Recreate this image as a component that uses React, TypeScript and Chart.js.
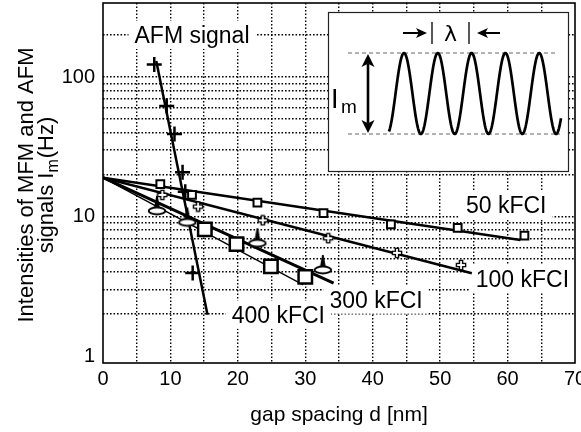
import React, { useEffect, useRef } from 'react';
import { Chart, registerables } from 'chart.js';

Chart.register(...registerables);

// ---------- data ----------
const afmD = [7.6, 9.45, 10.6, 11.8, 12.2, 13.3];
const afmI = [123, 62, 39, 20.8, 15.1, 3.94];

const d50 = [8.5, 13.2, 22.9, 32.7, 42.7, 52.6, 62.5];
const i50 = [17.1, 14.3, 12.6, 10.6, 8.8, 8.3, 7.3];

const d100 = [8.8, 14.1, 23.7, 33.4, 43.6, 53.1];
const i100 = [14.3, 11.8, 9.4, 7.0, 5.5, 4.5];

const d300 = [8.0, 12.5, 22.9, 32.6];
const i300 = [11.0, 9.1, 6.45, 4.15];

const d400 = [15.1, 19.8, 24.9, 30.0];
const i400 = [8.1, 6.35, 4.4, 3.7];

// fitted lines (start, end)
const fitAfmD = [7.9, 15.5];
const fitAfmI = [130, 1.98];
const fit50D = [0, 61.9];
const fit50I = [19, 6.8];
const fit100D = [0, 54.7];
const fit100I = [19, 3.93];
const fit300D = [0, 34.2];
const fit300I = [19, 3.34];
const fit400D = [0, 29.7];
const fit400I = [19, 3.24];

// axes
const xTicks = [0, 5, 10, 15, 20, 25, 30, 35, 40, 45, 50, 55, 60, 65, 70];
const xLabelled = [0, 10, 20, 30, 40, 50, 60, 70];
const yTicks = [1, 2, 3, 4, 5, 6, 7, 8, 9, 10, 20, 30, 40, 50, 60, 70, 80, 90, 100, 200];
const yLabelled = [1, 10, 100];

// curve labels
const curveLabels = ['AFM signal', '50 kFCI', '100 kFCI', '300 kFCI', '400 kFCI'];
const curveLabelD = [13.2, 59.8, 62.2, 40.5, 26.0];
const curveLabelI = [200, 12.1, 3.58, 2.54, 1.98];

const FONT = '"Liberation Sans", Arial, Helvetica, sans-serif';

const pts = (xs: number[], ys: number[]) => xs.map((v, i) => ({ x: v, y: ys[i] }));

function makeHollowPlus(): HTMLCanvasElement {
  const c = document.createElement('canvas');
  c.width = 12;
  c.height = 12;
  const g = c.getContext('2d')!;
  const cx = 6, cy = 6, a = 1.6, L = 4.6;
  g.beginPath();
  g.moveTo(cx - a, cy - L);
  g.lineTo(cx + a, cy - L);
  g.lineTo(cx + a, cy - a);
  g.lineTo(cx + L, cy - a);
  g.lineTo(cx + L, cy + a);
  g.lineTo(cx + a, cy + a);
  g.lineTo(cx + a, cy + L);
  g.lineTo(cx - a, cy + L);
  g.lineTo(cx - a, cy + a);
  g.lineTo(cx - L, cy + a);
  g.lineTo(cx - L, cy - a);
  g.lineTo(cx - a, cy - a);
  g.closePath();
  g.fillStyle = '#fff';
  g.fill();
  g.lineWidth = 1.4;
  g.strokeStyle = '#000';
  g.stroke();
  return c;
}

function makePin(): HTMLCanvasElement {
  const c = document.createElement('canvas');
  c.width = 20;
  c.height = 32;
  const g = c.getContext('2d')!;
  const cx = 10, cy = 16;
  g.fillStyle = '#000';
  g.beginPath();
  g.moveTo(cx - 0.8, cy - 15);
  g.lineTo(cx + 0.8, cy - 15);
  g.lineTo(cx + 3, cy - 2.5);
  g.lineTo(cx - 3, cy - 2.5);
  g.closePath();
  g.fill();
  g.beginPath();
  g.ellipse(cx, cy, 8.3, 3.5, 0, 0, Math.PI * 2);
  g.fillStyle = '#fff';
  g.fill();
  g.lineWidth = 1.9;
  g.strokeStyle = '#000';
  g.stroke();
  return c;
}

function arrowHead(ctx: CanvasRenderingContext2D, x: number, y: number, dx: number, dy: number, len: number, half: number) {
  const px = -dy, py = dx;
  ctx.beginPath();
  ctx.moveTo(x, y);
  ctx.lineTo(x - dx * len + px * half, y - dy * len + py * half);
  ctx.lineTo(x - dx * len * 0.75, y - dy * len * 0.75);
  ctx.lineTo(x - dx * len - px * half, y - dy * len - py * half);
  ctx.closePath();
  ctx.fill();
}

function drawInset(ctx: CanvasRenderingContext2D, a: any) {
  const bx = a.left + 225, by = a.top + 9, bw = 240, bh = 159;
  ctx.save();
  ctx.fillStyle = '#fff';
  ctx.fillRect(bx, by, bw, bh);
  ctx.strokeStyle = '#222';
  ctx.lineWidth = 1.2;
  ctx.strokeRect(bx + 0.5, by + 0.5, bw, bh);

  ctx.setLineDash([4, 3]);
  ctx.strokeStyle = '#666';
  ctx.lineWidth = 1.2;
  ctx.beginPath();
  ctx.moveTo(bx + 20, by + 41);
  ctx.lineTo(bx + 230, by + 41);
  ctx.moveTo(bx + 20, by + 122);
  ctx.lineTo(bx + 232, by + 122);
  ctx.stroke();
  ctx.setLineDash([]);

  ctx.strokeStyle = '#000';
  ctx.lineWidth = 2.7;
  ctx.lineJoin = 'round';
  const mid = by + 81.5, amp = 40.5, period = 33.8, peak0 = bx + 76;
  ctx.beginPath();
  for (let px = bx + 61; px <= bx + 233; px += 0.5) {
    const yy = mid - amp * Math.cos((2 * Math.PI * (px - peak0)) / period);
    if (px === bx + 61) ctx.moveTo(px, yy);
    else ctx.lineTo(px, yy);
  }
  ctx.stroke();

  ctx.fillStyle = '#000';
  ctx.lineWidth = 2.2;
  ctx.beginPath();
  ctx.moveTo(bx + 75, by + 21);
  ctx.lineTo(bx + 92, by + 21);
  ctx.moveTo(bx + 172, by + 21);
  ctx.lineTo(bx + 156, by + 21);
  ctx.stroke();
  arrowHead(ctx, bx + 99, by + 21, 1, 0, 11, 5);
  arrowHead(ctx, bx + 149, by + 21, -1, 0, 11, 5);
  ctx.lineWidth = 1.3;
  ctx.beginPath();
  ctx.moveTo(bx + 104, by + 10);
  ctx.lineTo(bx + 104, by + 32);
  ctx.moveTo(bx + 141, by + 10);
  ctx.lineTo(bx + 141, by + 32);
  ctx.stroke();
  ctx.font = '22px "DejaVu Sans", sans-serif';
  ctx.textAlign = 'center';
  ctx.textBaseline = 'alphabetic';
  ctx.fillText('λ', bx + 122.5, by + 29);

  ctx.lineWidth = 2.6;
  ctx.beginPath();
  ctx.moveTo(bx + 40, by + 52);
  ctx.lineTo(bx + 40, by + 111);
  ctx.stroke();
  arrowHead(ctx, bx + 40, by + 42, 0, -1, 13, 6.5);
  arrowHead(ctx, bx + 40, by + 121, 0, 1, 13, 6.5);

  ctx.textAlign = 'left';
  ctx.font = `27px ${FONT}`;
  ctx.fillText('I', bx + 3, by + 96);
  ctx.font = `19px ${FONT}`;
  ctx.fillText('m', bx + 13, by + 101);
  ctx.restore();
}

const decorPlugin = {
  id: 'decor',
  beforeDatasetsDraw(chart: any) {
    const { ctx, chartArea: a, scales } = chart;
    const x = scales.x, y = scales.y;
    ctx.save();
    ctx.font = `23px ${FONT}`;
    ctx.textAlign = 'center';
    ctx.textBaseline = 'alphabetic';
    curveLabels.forEach((t, i) => {
      const px = x.getPixelForValue(curveLabelD[i]);
      const py = y.getPixelForValue(curveLabelI[i]);
      const w = ctx.measureText(t).width;
      ctx.fillStyle = '#fff';
      ctx.fillRect(px - w / 2 - 6, py - 14, w + 12, 28);
      ctx.fillStyle = '#000';
      ctx.fillText(t, px, py + 8.2);
    });
    ctx.restore();
    drawInset(ctx, a);
  },
  afterDraw(chart: any) {
    const { ctx, chartArea: a } = chart;
    ctx.save();
    ctx.strokeStyle = '#000';
    ctx.lineWidth = 1.6;
    ctx.strokeRect(a.left, a.top, a.right - a.left, a.bottom - a.top);

    ctx.fillStyle = '#000';
    ctx.font = `21px ${FONT}`;
    ctx.textAlign = 'center';
    ctx.textBaseline = 'alphabetic';
    ctx.fillText('gap spacing d [nm]', (a.left + a.right) / 2, 421);

    const cy = (a.top + a.bottom) / 2 + 2;
    ctx.save();
    ctx.translate(33, cy);
    ctx.rotate(-Math.PI / 2);
    ctx.font = `22px ${FONT}`;
    ctx.textAlign = 'center';
    ctx.fillText('Intensities of MFM and AFM', 0, 0);
    ctx.restore();

    ctx.save();
    ctx.translate(53, cy);
    ctx.rotate(-Math.PI / 2);
    ctx.textAlign = 'left';
    const p1 = 'signals I', p2 = 'm', p3 = '(Hz)';
    ctx.font = `22px ${FONT}`;
    const w1 = ctx.measureText(p1).width;
    const w3 = ctx.measureText(p3).width;
    ctx.font = `16px ${FONT}`;
    const w2 = ctx.measureText(p2).width;
    let sx = -(w1 + w2 + w3 + 1) / 2;
    ctx.font = `22px ${FONT}`;
    ctx.fillText(p1, sx, 0);
    sx += w1;
    ctx.font = `16px ${FONT}`;
    ctx.fillText(p2, sx, 5);
    sx += w2 + 1;
    ctx.font = `22px ${FONT}`;
    ctx.fillText(p3, sx, 0);
    ctx.restore();

    ctx.restore();
  },
};

export default function App() {
  const ref = useRef<HTMLCanvasElement | null>(null);

  useEffect(() => {
    document.body.style.margin = '0';
    const canvas = ref.current;
    if (!canvas) return;
    const plusImg = makeHollowPlus();
    const pinImg = makePin();

    const fitStyle = (w: number) => ({
      showLine: true,
      borderColor: '#000',
      borderWidth: w,
      pointRadius: 0,
      pointHoverRadius: 0,
      fill: false,
      order: 10,
    });

    const gridDash = [1.6, 1.9];

    const chart = new Chart(canvas, {
      type: 'scatter',
      data: {
        datasets: [
          { label: 'AFM fit', data: pts(fitAfmD, fitAfmI), ...fitStyle(2.5) },
          { label: '50 kFCI fit', data: pts(fit50D, fit50I), ...fitStyle(2.5) },
          { label: '100 kFCI fit', data: pts(fit100D, fit100I), ...fitStyle(2.5) },
          { label: '300 kFCI fit', data: pts(fit300D, fit300I), ...fitStyle(3) },
          { label: '400 kFCI fit', data: pts(fit400D, fit400I), ...fitStyle(1.3) },
          {
            label: '50 kFCI',
            data: pts(d50, i50),
            pointStyle: 'rect',
            pointRadius: 5.5,
            borderWidth: 2,
            borderColor: '#000',
            backgroundColor: '#fff',
            order: 1,
          },
          {
            label: '400 kFCI',
            data: pts(d400, i400),
            pointStyle: 'rect',
            pointRadius: 9.5,
            borderWidth: 2.5,
            borderColor: '#000',
            backgroundColor: '#fff',
            order: 2,
          },
          {
            label: '300 kFCI',
            data: pts(d300, i300),
            pointStyle: pinImg as any,
            pointRadius: 10,
            order: 3,
          },
          {
            label: '100 kFCI',
            data: pts(d100, i100),
            pointStyle: plusImg as any,
            pointRadius: 6,
            order: 4,
          },
          {
            label: 'AFM signal',
            data: pts(afmD, afmI),
            pointStyle: 'cross',
            pointRadius: 7.5,
            borderWidth: 2.5,
            borderColor: '#000',
            order: 5,
          },
        ] as any,
      },
      options: {
        animation: false,
        responsive: false,
        devicePixelRatio: 1,
        layout: { autoPadding: false, padding: { top: 3, right: 6, left: 0, bottom: 0 } },
        plugins: { legend: { display: false }, tooltip: { enabled: false }, title: { display: false } },
        scales: {
          x: {
            type: 'linear',
            min: 0,
            max: 70,
            afterBuildTicks: (s: any) => {
              s.ticks = xTicks.map((v) => ({ value: v }));
            },
            afterFit: (s: any) => {
              s.height = 69;
              s.paddingLeft = 0;
              s.paddingRight = 0;
            },
            ticks: {
              autoSkip: false,
              maxRotation: 0,
              padding: 4,
              color: '#000',
              font: { family: FONT, size: 20 },
              callback: (v: any) => (xLabelled.includes(Number(v)) ? String(v) : ''),
            },
            grid: {
              drawTicks: false,
              lineWidth: 1.4,
              color: (c: any) =>
                c.tick && (c.tick.value === 0 || c.tick.value === 70) ? 'rgba(0,0,0,0)' : '#000',
            },
            border: { display: false, dash: gridDash },
          },
          y: {
            type: 'logarithmic',
            min: 0.894,
            max: 339,
            afterBuildTicks: (s: any) => {
              s.ticks = yTicks.map((v) => ({ value: v }));
            },
            afterFit: (s: any) => {
              s.width = 103;
              s.paddingTop = 0;
              s.paddingBottom = 0;
            },
            ticks: {
              autoSkip: false,
              padding: 8,
              color: '#000',
              font: { family: FONT, size: 20 },
              callback: (v: any) => (yLabelled.includes(Number(v)) ? String(v) : ''),
            },
            grid: {
              drawTicks: false,
              lineWidth: 1.4,
              color: (c: any) => (c.tick && c.tick.value === 1 ? 'rgba(0,0,0,0)' : '#000'),
            },
            border: { display: false, dash: gridDash },
          },
        },
      } as any,
      plugins: [decorPlugin],
    });

    return () => chart.destroy();
  }, []);

  return (
    <div style={{ width: 581, height: 432 }}>
      <canvas ref={ref} width={581} height={432} style={{ display: 'block' }} />
    </div>
  );
}
